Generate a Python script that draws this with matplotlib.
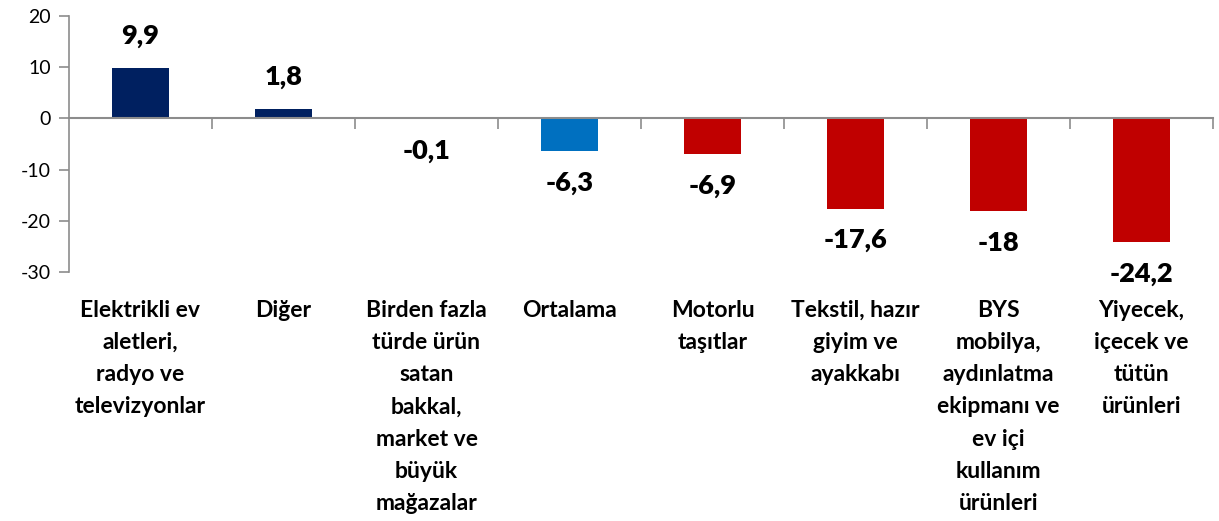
import matplotlib.pyplot as plt
from matplotlib.ticker import FixedLocator

categories = [
    "Elektrikli ev\naletleri,\nradyo ve\ntelevizyonlar",
    "Diğer",
    "Birden fazla\ntürde ürün\nsatan\nbakkal,\nmarket ve\nbüyük\nmağazalar",
    "Ortalama",
    "Motorlu\ntaşıtlar",
    "Tekstil, hazır\ngiyim ve\nayakkabı",
    "BYS\nmobilya,\naydınlatma\nekipmanı ve\nev içi\nkullanım\nürünleri",
    "Yiyecek,\niçecek ve\ntütün\nürünleri",
]
values = [9.9, 1.8, -0.1, -6.3, -6.9, -17.6, -18.0, -24.2]
value_labels = ["9,9", "1,8", "-0,1", "-6,3", "-6,9", "-17,6", "-18", "-24,2"]
bar_colors = ["#002060", "#002060", "#C00000", "#0070C0",
              "#C00000", "#C00000", "#C00000", "#C00000"]
y_ticks = [-30, -20, -10, 0, 10, 20]

plt.rcParams["font.family"] = ["Lato", "DejaVu Sans"]
axis_grey = "#8C8C8C"

fig = plt.figure(figsize=(12.19, 5.21), dpi=100)
ax = fig.add_axes([69 / 1219, 1 - 272 / 521, (1213 - 69) / 1219, (272 - 16) / 521])

x = list(range(len(categories)))
ax.bar(x, values, width=0.4, color=bar_colors)

ax.set_xlim(-0.5, len(categories) - 0.5)
ax.set_ylim(-30, 20)
ax.set_yticks(y_ticks)
ax.set_yticklabels([str(t) for t in y_ticks], fontsize=14)
ax.tick_params(axis="y", direction="out", length=7, width=1.2, color=axis_grey, pad=6)

# zero line with category separators
ax.spines["bottom"].set_position(("data", 0))
ax.spines["bottom"].set_color(axis_grey)
ax.spines["bottom"].set_linewidth(1.5)
ax.spines["left"].set_color(axis_grey)
ax.spines["left"].set_linewidth(1.2)
ax.spines["top"].set_visible(False)
ax.spines["right"].set_visible(False)
ax.xaxis.set_major_locator(FixedLocator([i + 0.5 for i in x]))
ax.set_xticklabels([])
ax.tick_params(axis="x", direction="out", length=8, width=1.2, color=axis_grey)

for xi, v, lab in zip(x, values, value_labels):
    off = 23 if v >= 0 else -23
    ax.annotate(lab, (xi, v), xytext=(0, off), textcoords="offset points",
                ha="center", va="center", fontsize=19.5, fontweight="heavy")

trans = ax.get_xaxis_transform()
for xi, cat in zip(x, categories):
    ax.annotate(cat, (xi, 0), xycoords=trans, xytext=(0, -20), textcoords="offset points",
                ha="center", va="top", fontsize=16.5, fontweight="bold", linespacing=1.66,
                multialignment="center")

fig.savefig("out.png", dpi=100)
